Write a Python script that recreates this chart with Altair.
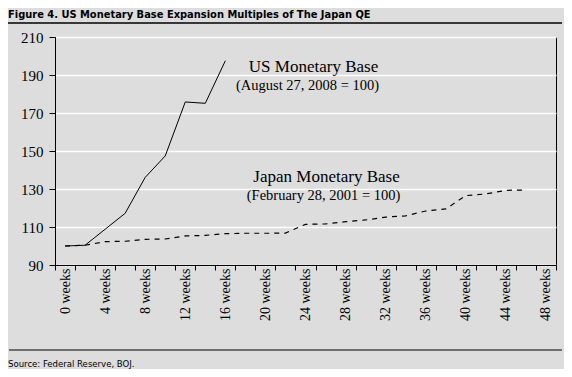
import altair as alt
import pandas as pd

# ---- data ----
weeks_us = [0, 2, 4, 6, 8, 10, 12, 14, 16]
us_values = [100, 100.4, 108.8, 117.2, 136.1, 147.4, 175.8, 175.1, 197.5]

weeks_jp = [0, 2, 4, 6, 8, 10, 12, 14, 16, 18, 20, 22, 24, 26, 28, 30, 32, 34, 36, 38, 40, 42, 44, 46]
jp_values = [100, 100.4, 102.3, 102.5, 103.5, 103.7, 105.3, 105.6, 106.5, 106.7, 106.7, 106.8,
             111.4, 111.6, 112.8, 113.7, 115.2, 115.9, 118.4, 119.5, 126.5, 127.4, 129.3, 129.5]

label_weeks = [0, 4, 8, 12, 16, 20, 24, 28, 32, 36, 40, 44, 48]
tick_weeks = [-1, 1, 3, 5, 7, 9, 11, 13, 15, 17, 19, 21, 23, 25, 27, 29, 31, 33, 35, 37, 39, 41, 43, 45, 47, 49]
y_ticks = [90, 110, 130, 150, 170, 190, 210]

ann_text = ["US Monetary Base", "(August 27, 2008 = 100)", "Japan Monetary Base", "(February 28, 2001 = 100)"]
ann_week = [24.8, 24.2, 26.1, 25.8]
ann_value = [194.4, 184.4, 136.3, 126.3]
ann_size = [17, 14.5, 17, 14.5]

title_text = "Figure 4. US Monetary Base Expansion Multiples of The Japan QE"
source_text = "Source: Federal Reserve, BOJ."

BG = "#dddddd"
SERIF = "Liberation Serif"
NARROW = "Liberation Sans Narrow, DejaVu Sans Condensed, sans-serif"

df_us = pd.DataFrame({"week": weeks_us, "value": us_values})
df_jp = pd.DataFrame({"week": weeks_jp, "value": jp_values})
df_ticks = pd.DataFrame({"week": tick_weeks, "value": [100] * len(tick_weeks)})
df_ann = pd.DataFrame({"text": ann_text, "week": ann_week, "value": ann_value, "size": ann_size})

xs = alt.Scale(domain=[-1, 49], nice=False, zero=False)
ys = alt.Scale(domain=[90, 210], nice=False, zero=False)

x_label_axis = alt.Axis(values=label_weeks, labelExpr="datum.value + ' weeks'", labelAngle=270,
                        ticks=False, tickSize=0, grid=False, title=None, labelFontSize=14,
                        labelFont=SERIF, labelPadding=3, orient="bottom", domainColor="black")
y_axis = alt.Axis(values=y_ticks, title=None, tickSize=6, labelFontSize=15, labelFont=SERIF,
                  labelPadding=6, grid=True, gridColor="white", gridWidth=1.3, domainColor="black",
                  tickColor="black", labelColor="black")

us = alt.Chart(df_us).mark_line(color="black", strokeWidth=1).encode(
    x=alt.X("week:Q", scale=xs, axis=x_label_axis),
    y=alt.Y("value:Q", scale=ys, axis=y_axis),
)
jp = alt.Chart(df_jp).mark_line(color="black", strokeWidth=1.2, strokeDash=[5, 5]).encode(
    x=alt.X("week:Q", scale=xs, axis=None),
    y=alt.Y("value:Q", scale=ys, axis=y_axis),
)
ticks = alt.Chart(df_ticks).mark_point(opacity=0).encode(
    x=alt.X("week:Q", scale=xs, axis=alt.Axis(values=tick_weeks, labels=False, ticks=True, tickSize=5,
                                              tickColor="black", domain=False, grid=False, title=None,
                                              orient="bottom")),
    y=alt.Y("value:Q", scale=ys, axis=y_axis),
)
ann = alt.Chart(df_ann).mark_text(font=SERIF, color="black", align="center", baseline="middle").encode(
    x=alt.X("week:Q", scale=xs, axis=None),
    y=alt.Y("value:Q", scale=ys, axis=y_axis),
    text="text:N",
    size=alt.Size("size:Q", scale=None, legend=None),
)

one = pd.DataFrame({"t": [0]})
title = alt.Chart(pd.DataFrame({"t": [title_text]})).mark_text(
    font=NARROW, fontWeight="bold", fontSize=11, align="left", baseline="alphabetic", color="black"
).encode(text="t:N", x=alt.value(-47), y=alt.value(-19))
title_rule = alt.Chart(one).mark_rule(color="black", strokeWidth=1.5).encode(
    x=alt.value(-47), x2=alt.value(507), y=alt.value(-14))
source_rule = alt.Chart(one).mark_rule(color="black", strokeWidth=1.2).encode(
    x=alt.value(-46), x2=alt.value(507), y=alt.value(313))
source = alt.Chart(pd.DataFrame({"t": [source_text]})).mark_text(
    font=NARROW, fontSize=9.5, align="left", baseline="alphabetic", color="black"
).encode(text="t:N", x=alt.value(-47), y=alt.value(330))

chart = alt.layer(us, jp, ticks, ann, title, title_rule, source_rule, source).resolve_axis(
    x="independent", y="shared"
).properties(
    width=501, height=228,
    autosize=alt.AutoSizeParams(type="none"),
    padding={"left": 47, "top": 29, "right": 8, "bottom": 104},
    background=BG,
).configure_view(stroke="black", strokeWidth=1, fill=BG)

chart.save("out.html", embed_options={"renderer": "svg", "actions": False})
